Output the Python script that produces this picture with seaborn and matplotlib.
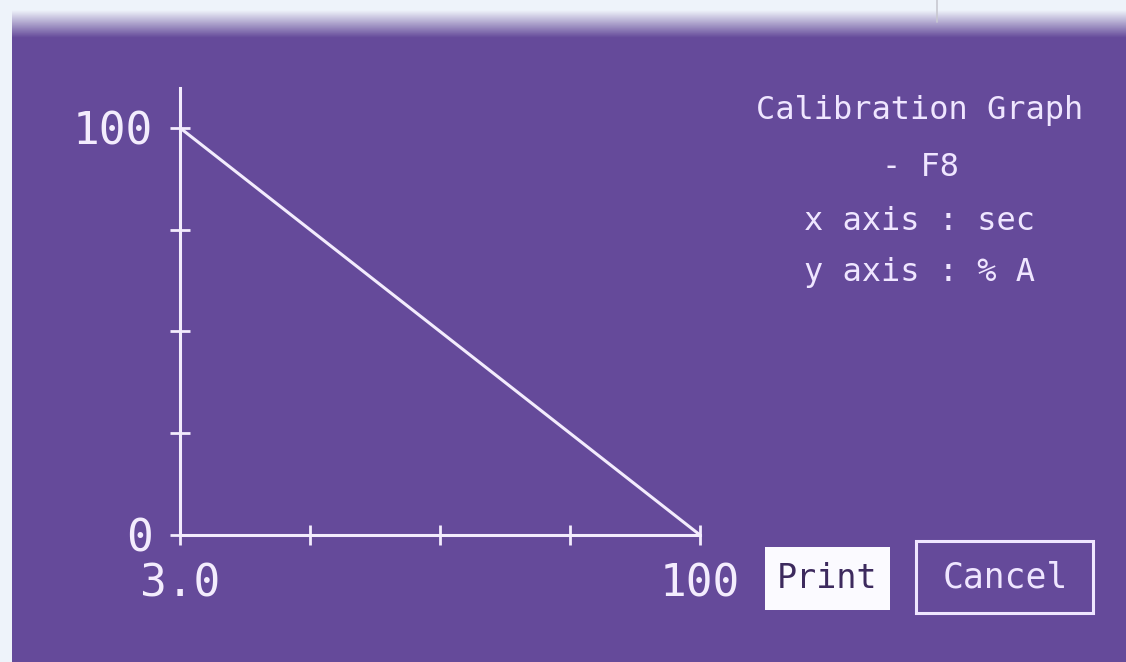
import numpy as np
import matplotlib
matplotlib.use("Agg")
import matplotlib.pyplot as plt
import seaborn as sns
from matplotlib.patches import Rectangle

# calibration line data
x_sec = [3.0, 100.0]
y_pct = [100.0, 0.0]
x_ticks = [3.0, 27.25, 51.5, 75.75, 100.0]
x_ticklabels = ["3.0", "", "", "", "100"]
y_ticks = [0, 25, 50, 75, 100]
y_ticklabels = ["0", "", "", "", "100"]
info_lines = ["Calibration Graph", "- F8", "x axis : sec", "y axis : % A"]

W, H = 1126, 662
purple = "#654a9a"
fg = "#f3ecfd"

sns.set_style("white")
plt.rcParams['font.family'] = ['DejaVu Sans Mono', 'DejaVu Sans']

fig = plt.figure(figsize=(W / 100, H / 100), dpi=100)
fig.patch.set_facecolor("#eef3fa")

# purple screen panel with a soft top edge
fig.add_artist(Rectangle((12 / W, 0), 1, (H - 35) / H, transform=fig.transFigure,
                         facecolor=purple, edgecolor="none", zorder=0))
grad_ax = fig.add_axes([12 / W, (H - 38) / H, 1 - 12 / W, 28 / H])
grad = np.linspace(0, 1, 50).reshape(-1, 1)
cmap = matplotlib.colors.LinearSegmentedColormap.from_list("edge", [purple, "#eef3fa"])
grad_ax.imshow(grad, aspect="auto", cmap=cmap, origin="lower")
grad_ax.axis("off")
fig.add_artist(plt.Line2D([937 / W, 937 / W], [(H - 22) / H, 1], transform=fig.transFigure,
                          color="#c8c8d0", lw=1.2))

ax = fig.add_axes([180 / W, 127 / H, 520 / W, 447 / H])
ax.set_facecolor("none")
sns.lineplot(x=x_sec, y=y_pct, ax=ax, color=fg, linewidth=2.2)
ax.set_xlim(3.0, 100.0)
ax.set_ylim(0, 109.8)

for side in ["top", "right"]:
    ax.spines[side].set_visible(False)
for side in ["left", "bottom"]:
    ax.spines[side].set_color(fg)
    ax.spines[side].set_linewidth(2.2)

ax.set_xticks(x_ticks)
ax.set_xticklabels(x_ticklabels)
ax.set_yticks(y_ticks)
ax.set_yticklabels(y_ticklabels)
ax.tick_params(axis="both", direction="inout", length=15, width=2, color=fg,
               labelcolor=fg, labelsize=32, bottom=True, left=True)
ax.tick_params(axis="x", pad=12)
ax.tick_params(axis="y", pad=12)
ax.set_xlabel("")
ax.set_ylabel("")

# info text block on the right
ys = [110, 168, 222, 272]
for line, yp in zip(info_lines, ys):
    fig.text(920 / W, 1 - yp / H, line, ha="center", va="center", color="#efe6ff", fontsize=23)

# Print / Cancel buttons
fig.add_artist(Rectangle((765 / W, 1 - 610 / H), 125 / W, 63 / H, transform=fig.transFigure,
                         facecolor="#fbfaff", edgecolor="none"))
fig.text(827 / W, 1 - 578 / H, "Print", ha="center", va="center", color="#3d2a5e", fontsize=24)
fig.add_artist(Rectangle((916 / W, 1 - 613 / H), 177 / W, 72 / H, transform=fig.transFigure,
                         facecolor="none", edgecolor="#efe6ff", linewidth=2.2))
fig.text(1005 / W, 1 - 577 / H, "Cancel", ha="center", va="center", color="#efe6ff", fontsize=25)

fig.savefig("out.png", dpi=100, facecolor=fig.get_facecolor())
